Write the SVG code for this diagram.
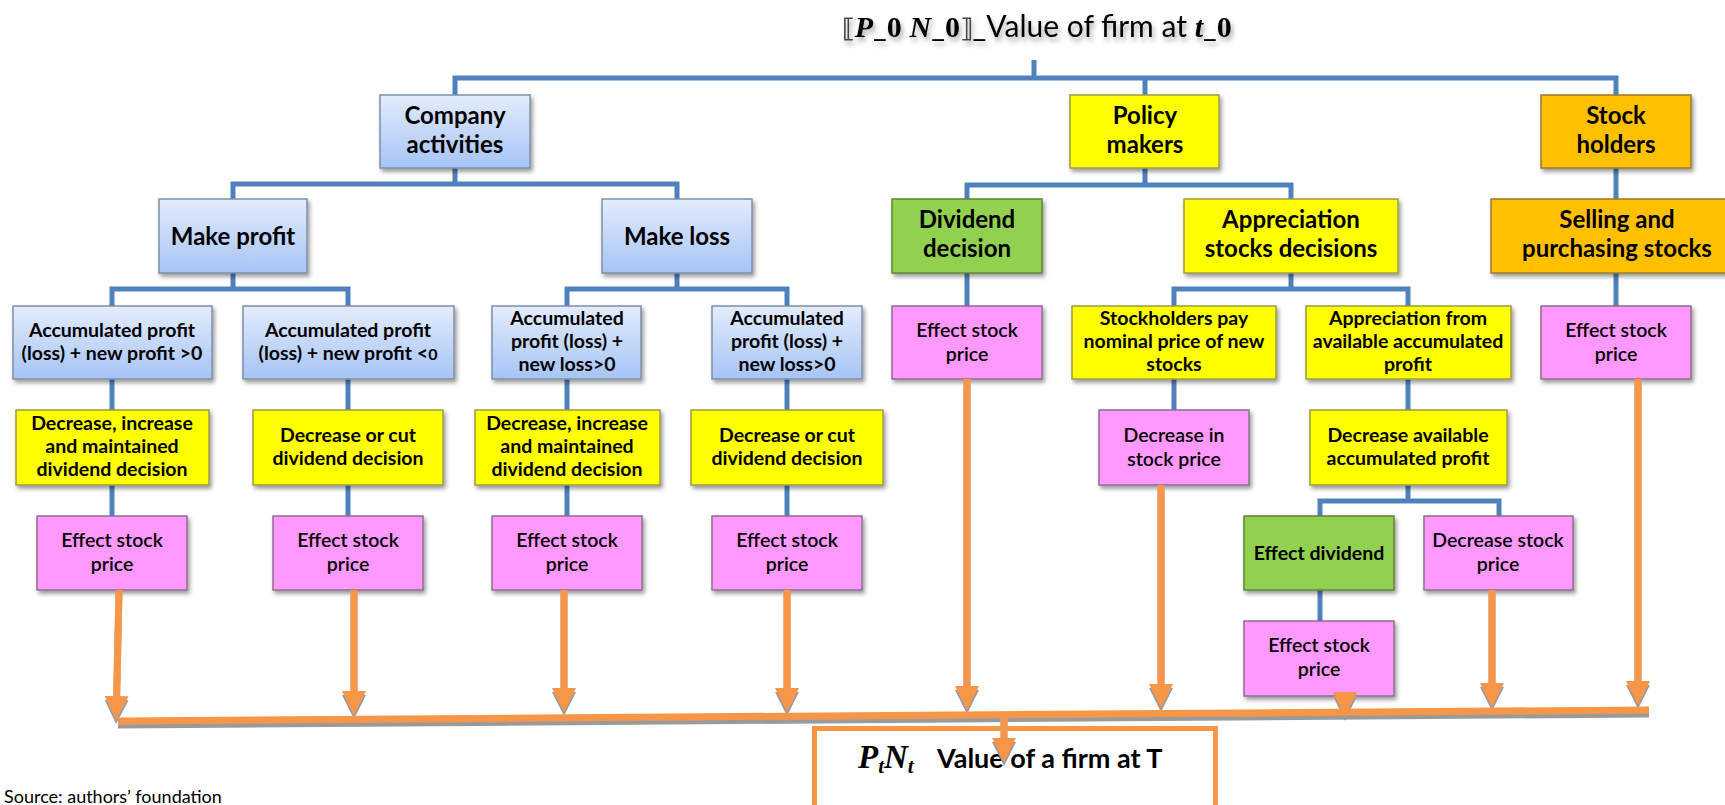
<svg xmlns="http://www.w3.org/2000/svg" width="1725" height="805" viewBox="0 0 1725 805">
<defs>
<linearGradient id="gblue" x1="0" y1="0" x2="0" y2="1">
<stop offset="0" stop-color="#E3ECFC"/>
<stop offset="1" stop-color="#A6C4F5"/>
</linearGradient>
<filter id="sh" x="-10%" y="-10%" width="130%" height="140%">
<feDropShadow dx="2" dy="3" stdDeviation="2" flood-color="#000" flood-opacity="0.4"/>
</filter>
<filter id="tsh" x="-5%" y="-30%" width="115%" height="180%">
<feDropShadow dx="2" dy="4" stdDeviation="2.5" flood-color="#000" flood-opacity="0.35"/>
</filter>
<filter id="osh" x="-5%" y="-5%" width="110%" height="120%">
<feDropShadow dx="0" dy="4" stdDeviation="0.4" flood-color="#9A9A9A" flood-opacity="1"/>
</filter>
<marker id="ah" markerUnits="userSpaceOnUse" markerWidth="24" markerHeight="24" viewBox="0 0 24 24" refX="4" refY="12" orient="auto">
<path d="M0,0 L24,12 L0,24 z" fill="#F79646"/>
</marker>
<style>
.blue{fill:url(#gblue);stroke:#7F8EA8;stroke-width:1.5;filter:url(#sh)}
.yel{fill:#FFFF00;stroke:#9C9C40;stroke-width:1.5;filter:url(#sh)}
.grn{fill:#92D050;stroke:#5F8436;stroke-width:1.5;filter:url(#sh)}
.org{fill:#FFC000;stroke:#9C7A2C;stroke-width:1.5;filter:url(#sh)}
.pnk{fill:#FF99FF;stroke:#8E6E8E;stroke-width:1.5;filter:url(#sh)}
text{font-family:Lato,"Liberation Sans",sans-serif;fill:#000}
.t1{font-size:24px;font-weight:bold;text-anchor:middle}
.t2{font-size:19.5px;font-weight:bold;text-anchor:middle}
.t3{font-size:19.5px;font-weight:600;text-anchor:middle}
.mi{font-family:"Liberation Serif","DejaVu Serif",serif;font-style:italic;font-weight:bold}
.mb{font-family:"Liberation Serif","DejaVu Serif",serif;font-weight:bold}
.conn{fill:none;stroke:#4F81BD;stroke-width:5}
.arr{fill:none;stroke:#F79646;stroke-width:7}
</style>
</defs>
<rect width="1725" height="805" fill="#FFFFFF"/>

<g id="title" filter="url(#tsh)">
<text x="842" y="37" font-size="30"><tspan font-family="'DejaVu Sans',sans-serif" font-weight="bold" fill="#444" font-size="26">⟦</tspan><tspan class="mi">P</tspan>_<tspan class="mb">0</tspan> <tspan class="mi">N</tspan>_<tspan class="mb">0</tspan><tspan font-family="'DejaVu Sans',sans-serif" font-weight="bold" fill="#444" font-size="26">⟧</tspan>_Value of firm at <tspan class="mi">t</tspan>_<tspan class="mb">0</tspan></text>
</g>

<g id="connectors">
<path class="conn" d="M1034,60 V78 M455,95 V78 H1616 V95 M1145,78 V95"/>
<path class="conn" d="M455,168 V184 M233,199 V184 H677 V199"/>
<path class="conn" d="M233,273 V289 M112,306 V289 H348 V306"/>
<path class="conn" d="M677,273 V289 M567,306 V289 H787 V306"/>
<path class="conn" d="M1145,168 V185 M967,199 V185 H1291 V199"/>
<path class="conn" d="M1291,273 V289 M1174,306 V289 H1408 V306"/>
<path class="conn" d="M1616,168 V199 M1616,273 V306 M967,273 V306"/>
<path class="conn" d="M112,379 V410 M348,379 V410 M567,379 V410 M787,379 V410 M1174,379 V410 M1408,379 V410"/>
<path class="conn" d="M112,485 V516 M348,485 V516 M567,485 V516 M787,485 V516"/>
<path class="conn" d="M1408,485 V501 M1320,516 V501 H1499 V516 M1320,590 V621"/>
</g>

<g id="company"><rect class="blue" x="380" y="95" width="150" height="73"/><text class="t1" x="455" y="124">Company</text><text class="t1" x="455" y="153">activities</text></g>
<g id="policy"><rect class="yel" x="1070" y="95" width="149" height="73"/><text class="t1" x="1145" y="124">Policy</text><text class="t1" x="1145" y="153">makers</text></g>
<g id="stockholders"><rect class="org" x="1541" y="95" width="150" height="73"/><text class="t1" x="1616" y="124">Stock</text><text class="t1" x="1616" y="153">holders</text></g>

<g id="makeprofit"><rect class="blue" x="159" y="199" width="148" height="74"/><text class="t1" x="233" y="245">Make profit</text></g>
<g id="makeloss"><rect class="blue" x="602" y="199" width="150" height="74"/><text class="t1" x="677" y="245">Make loss</text></g>
<g id="dividend"><rect class="grn" x="892" y="199" width="150" height="74"/><text class="t1" x="967" y="228">Dividend</text><text class="t1" x="967" y="257">decision</text></g>
<g id="appreciation"><rect class="yel" x="1184" y="199" width="214" height="74"/><text class="t1" x="1291" y="228">Appreciation</text><text class="t1" x="1291" y="257">stocks decisions</text></g>
<g id="selling"><rect class="org" x="1491" y="199" width="252" height="74"/><text class="t1" x="1617" y="228">Selling and</text><text class="t1" x="1617" y="257">purchasing stocks</text></g>

<g id="accprofit1"><rect class="blue" x="13" y="306" width="199" height="73"/><text class="t2" x="112" y="337">Accumulated profit</text><text class="t2" x="112" y="360">(loss) + new profit &gt;0</text></g>
<g id="accprofit2"><rect class="blue" x="243" y="306" width="211" height="73"/><text class="t2" x="348" y="337">Accumulated profit</text><text class="t2" x="348" y="360">(loss) + new profit &lt;<tspan font-size="16">0</tspan></text></g>
<g id="accloss1"><rect class="blue" x="492" y="306" width="149" height="73"/><text class="t2" x="567" y="325">Accumulated</text><text class="t2" x="567" y="348">profit (loss) +</text><text class="t2" x="567" y="371">new loss&gt;0</text></g>
<g id="accloss2"><rect class="blue" x="712" y="306" width="150" height="73"/><text class="t2" x="787" y="325">Accumulated</text><text class="t2" x="787" y="348">profit (loss) +</text><text class="t2" x="787" y="371">new loss&gt;0</text></g>
<g id="effdiv"><rect class="pnk" x="892" y="306" width="150" height="73"/><text class="t3" x="967" y="337">Effect stock</text><text class="t3" x="967" y="361">price</text></g>
<g id="shpay"><rect class="yel" x="1072" y="306" width="204" height="73"/><text class="t2" x="1174" y="325">Stockholders pay</text><text class="t2" x="1174" y="348">nominal price of new</text><text class="t2" x="1174" y="371">stocks</text></g>
<g id="appfrom"><rect class="yel" x="1306" y="306" width="205" height="73"/><text class="t2" x="1408" y="325">Appreciation from</text><text class="t2" x="1408" y="348">available accumulated</text><text class="t2" x="1408" y="371">profit</text></g>
<g id="effsh"><rect class="pnk" x="1541" y="306" width="150" height="73"/><text class="t3" x="1616" y="337">Effect stock</text><text class="t3" x="1616" y="361">price</text></g>

<g id="dec1"><rect class="yel" x="16" y="410" width="193" height="75"/><text class="t2" x="112" y="430">Decrease, increase</text><text class="t2" x="112" y="453">and maintained</text><text class="t2" x="112" y="476">dividend decision</text></g>
<g id="dec2"><rect class="yel" x="253" y="410" width="190" height="75"/><text class="t2" x="348" y="442">Decrease or cut</text><text class="t2" x="348" y="465">dividend decision</text></g>
<g id="dec3"><rect class="yel" x="475" y="410" width="185" height="75"/><text class="t2" x="567" y="430">Decrease, increase</text><text class="t2" x="567" y="453">and maintained</text><text class="t2" x="567" y="476">dividend decision</text></g>
<g id="dec4"><rect class="yel" x="691" y="410" width="192" height="75"/><text class="t2" x="787" y="442">Decrease or cut</text><text class="t2" x="787" y="465">dividend decision</text></g>
<g id="decin"><rect class="pnk" x="1099" y="410" width="150" height="75"/><text class="t3" x="1174" y="442">Decrease in</text><text class="t3" x="1174" y="466">stock price</text></g>
<g id="decavail"><rect class="yel" x="1310" y="410" width="197" height="75"/><text class="t2" x="1408" y="442">Decrease available</text><text class="t2" x="1408" y="465">accumulated profit</text></g>

<g id="eff1"><rect class="pnk" x="37" y="516" width="150" height="74"/><text class="t3" x="112" y="547">Effect stock</text><text class="t3" x="112" y="571">price</text></g>
<g id="eff2"><rect class="pnk" x="273" y="516" width="150" height="74"/><text class="t3" x="348" y="547">Effect stock</text><text class="t3" x="348" y="571">price</text></g>
<g id="eff3"><rect class="pnk" x="492" y="516" width="150" height="74"/><text class="t3" x="567" y="547">Effect stock</text><text class="t3" x="567" y="571">price</text></g>
<g id="eff4"><rect class="pnk" x="712" y="516" width="150" height="74"/><text class="t3" x="787" y="547">Effect stock</text><text class="t3" x="787" y="571">price</text></g>
<g id="effdividend"><rect class="grn" x="1244" y="516" width="150" height="74"/><text class="t2" x="1319" y="560">Effect dividend</text></g>
<g id="decstock"><rect class="pnk" x="1424" y="516" width="149" height="74"/><text class="t3" x="1498" y="547">Decrease stock</text><text class="t3" x="1498" y="571">price</text></g>
<g id="efffinal"><rect class="pnk" x="1244" y="621" width="150" height="75"/><text class="t3" x="1319" y="652">Effect stock</text><text class="t3" x="1319" y="676">price</text></g>

<g id="valueT">
<rect x="814.5" y="728.5" width="401" height="100" fill="#FFFFFF" stroke="#F79646" stroke-width="5"/>
<text x="858" y="768" font-size="33" class="mi">P<tspan dy="5" font-size="21">t</tspan><tspan dy="-5">N</tspan><tspan dy="5" font-size="21">t</tspan></text>
<text x="937" y="768" font-size="27" font-weight="bold">Value of a firm at T</text>
</g>

<g id="arrows" filter="url(#osh)">
<path class="arr" d="M118,721 L1649,710"/>
<path class="arr" d="M119,590 L116.5,700" marker-end="url(#ah)"/>
<path class="arr" d="M354,590 V695" marker-end="url(#ah)"/>
<path class="arr" d="M564,590 V692" marker-end="url(#ah)"/>
<path class="arr" d="M787,590 V692" marker-end="url(#ah)"/>
<path class="arr" d="M967,379 V690" marker-end="url(#ah)"/>
<path class="arr" d="M1161,485 V688" marker-end="url(#ah)"/>
<polygon points="1333,692 1357,692 1345,717" fill="#F79646"/>
<path class="arr" d="M1492,590 V687" marker-end="url(#ah)"/>
<path class="arr" d="M1638,379 V685" marker-end="url(#ah)"/>
<path class="arr" d="M1004,714 V742" marker-end="url(#ah)"/>
</g>

<text x="4" y="803" font-size="18">Source: authors’ foundation</text>
</svg>
